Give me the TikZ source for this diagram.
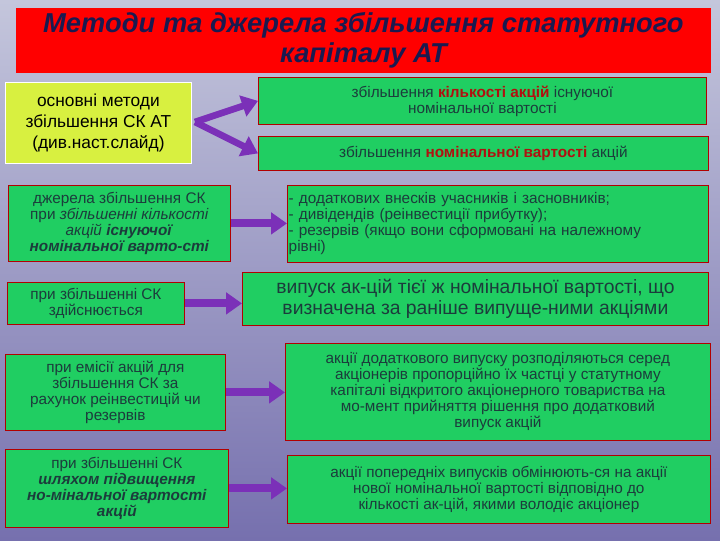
\documentclass[tikz,border=0pt]{standalone}
\usepackage{fontspec}
\setmainfont{Liberation Sans}
\usetikzlibrary{arrows.meta}
\definecolor{gbox}{HTML}{20CE62}
\definecolor{ybox}{HTML}{D8F040}
\definecolor{tx}{HTML}{1C3C3C}
\definecolor{em}{HTML}{B01010}
\definecolor{arr}{HTML}{7B30B8}
\definecolor{navy}{HTML}{1A1A50}
\definecolor{bgtop}{HTML}{C4C6DC}
\definecolor{bgbot}{HTML}{7670AE}
\begin{document}
\begin{tikzpicture}[x=0.75pt,y=-0.75pt,
  box/.style={draw=red!70!black,line width=0.6pt,fill=gbox,text=tx,align=center,inner sep=1pt,anchor=north west,font=\fontsize{11.5}{12}\selectfont},
  arrw/.style={draw=arr,line width=6pt,-{Triangle[length=12pt,width=16pt]}}]
\shade[top color=bgtop,bottom color=bgbot] (0,0) rectangle (720,540);
\useasboundingbox (0,0) rectangle (720,540);
\node[box,fill=red,draw=red,minimum width=694*0.75pt,minimum height=64*0.75pt,text=navy,font=\fontsize{20.5}{22}\selectfont\bfseries\itshape] (t) at (16,8) {Методи та джерела збільшення статутного\\капіталу АТ};
\node[box,fill=ybox,draw=white,minimum width=186*0.75pt,minimum height=81*0.75pt,font=\fontsize{13}{15.5}\selectfont,text=black] (a) at (5,82) {основні методи\\збільшення СК АТ\\(див.наст.слайд)};
\node[box,minimum width=448*0.75pt,minimum height=47*0.75pt] (r1) at (258,77) {збільшення \textcolor{em}{\bfseries кількості акцій} існуючої\\номінальної вартості};
\node[box,minimum width=450*0.75pt,minimum height=34*0.75pt] (r2) at (258,136) {збільшення \textcolor{em}{\bfseries номінальної вартості} акцій};
\node[box,minimum width=222*0.75pt,minimum height=76*0.75pt] (b) at (8,185) {джерела збільшення СК\\при \textit{збільшенні кількості}\\\textit{акцій \bfseries існуючої}\\\textbf{\textit{номінальної варто-сті}}};
\node[box,align=left,text width=418*0.75pt,minimum height=77*0.75pt] (c) at (287,185) {- додаткових внесків учасників і засновників;\\- дивідендів (реінвестиції прибутку);\\- резервів (якщо вони сформовані на належному\\рівні)};
\node[box,minimum width=177*0.75pt,minimum height=42*0.75pt] (d) at (7,282) {при збільшенні СК\\здійснюється};
\node[box,minimum width=466*0.75pt,minimum height=53*0.75pt,font=\fontsize{14.5}{16}\selectfont] (e) at (242,272) {випуск ак-цій тієї ж номінальної вартості, що\\визначена за раніше випуще-ними акціями};
\node[box,minimum width=220*0.75pt,minimum height=76*0.75pt] (f) at (5,354) {при емісії акцій для\\збільшення СК за\\рахунок реінвестицій чи\\резервів};
\node[box,minimum width=425*0.75pt,minimum height=97*0.75pt] (g) at (285,343) {акції додаткового випуску розподіляються серед\\акціонерів пропорційно їх частці у статутному\\капіталі відкритого акціонерного товариства на\\мо-мент прийняття рішення про додатковий\\випуск акцій};
\node[box,minimum width=223*0.75pt,minimum height=78*0.75pt] (h) at (5,449) {при збільшенні СК\\\textbf{\textit{шляхом підвищення}}\\\textbf{\textit{но-мінальної вартості}}\\\textbf{\textit{акцій}}};
\node[box,minimum width=423*0.75pt,minimum height=68*0.75pt] (i) at (287,455) {акції попередніх випусків обмінюють-ся на акції\\нової номінальної вартості відповідно до\\кількості ак-цій, якими володіє акціонер};
\coordinate (as) at (195,122);
\draw[arrw,line width=5pt] (as) -- (r1.west);
\draw[arrw,line width=5pt] (as) -- (r2.west);
\draw[arrw] (b.east) -- (c.west|-b.east);
\draw[arrw] (d.east) -- (e.west|-d.east);
\draw[arrw] (f.east) -- (g.west|-f.east);
\draw[arrw] (h.east) -- (i.west|-h.east);
\end{tikzpicture}
\end{document}
